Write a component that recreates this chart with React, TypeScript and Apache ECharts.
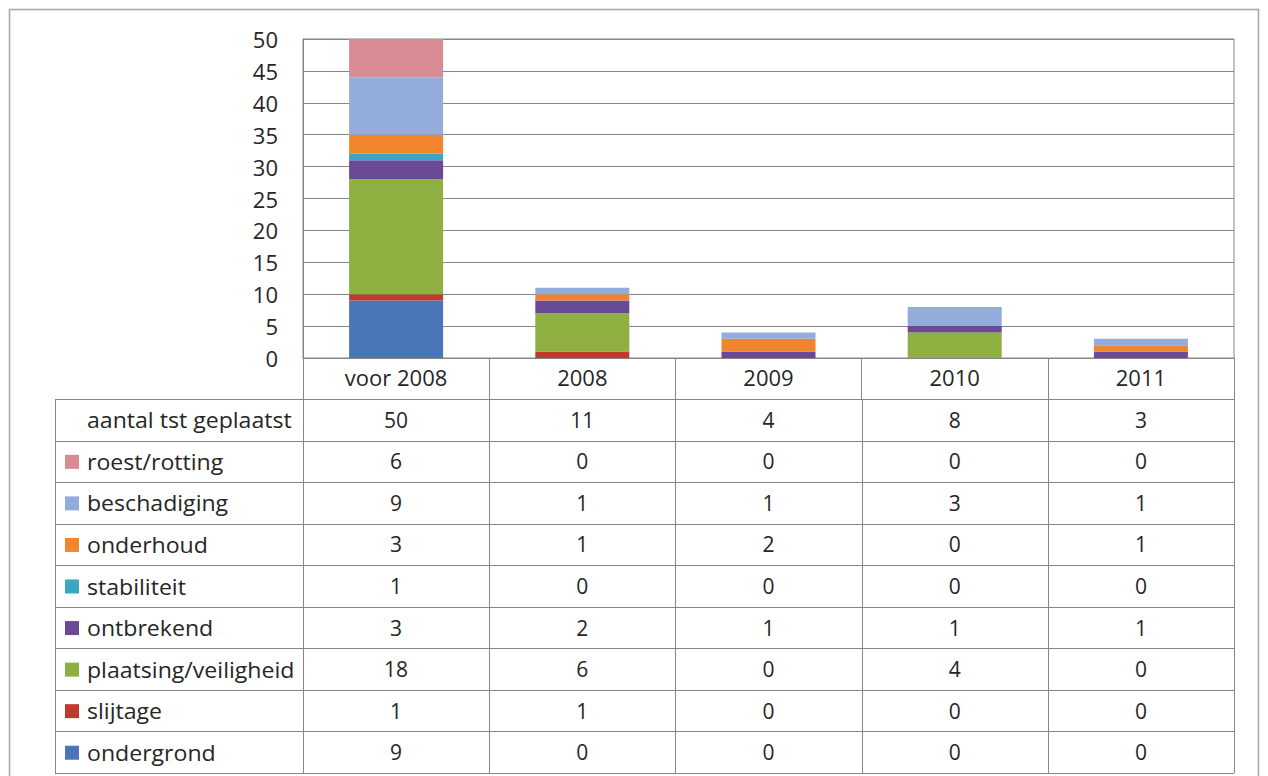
import React, { useEffect, useRef } from "react";
import * as echarts from "echarts";

const categories = ["voor 2008", "2008", "2009", "2010", "2011"];
const totalLabel = "aantal tst geplaatst";
const totals = [50, 11, 4, 8, 3];

// stack order, bottom to top
const seriesNames = [
  "ondergrond",
  "slijtage",
  "plaatsing/veiligheid",
  "ontbrekend",
  "stabiliteit",
  "onderhoud",
  "beschadiging",
  "roest/rotting",
];
const ondergrond = [9, 0, 0, 0, 0];
const slijtage = [1, 1, 0, 0, 0];
const plaatsing = [18, 6, 0, 4, 0];
const ontbrekend = [3, 2, 1, 1, 1];
const stabiliteit = [1, 0, 0, 0, 0];
const onderhoud = [3, 1, 2, 0, 1];
const beschadiging = [9, 1, 1, 3, 1];
const roest = [6, 0, 0, 0, 0];
const seriesValues = [ondergrond, slijtage, plaatsing, ontbrekend, stabiliteit, onderhoud, beschadiging, roest];
const seriesColors = ["#4A76B8", "#C0392F", "#8DB040", "#6A4A94", "#3AA6C2", "#F0852E", "#93ACDC", "#D98B94"];

const yMin = 0;
const yMax = 50;
const yInterval = 5;

const FONT = "'Open Sans', Lato, sans-serif";
const LINE = "#868686";
const TEXT = "#262626";

export default function App() {
  const ref = useRef<HTMLDivElement>(null);

  useEffect(() => {
    if (!ref.current) return;
    const chart = echarts.init(ref.current, undefined, { renderer: "svg" });

    const gridLeft = 303;
    const gridTop = 39;
    const gridRight = 1234;
    const gridBottom = 358;

    chart.setOption({
      animation: false,
      backgroundColor: "#ffffff",
      textStyle: { fontFamily: FONT },
      grid: {
        left: gridLeft,
        top: gridTop,
        right: 1268 - gridRight,
        bottom: 776 - gridBottom,
        show: true,
        borderColor: LINE,
        borderWidth: 1,
      },
      xAxis: {
        type: "category",
        data: categories,
        axisLine: { show: true, lineStyle: { color: LINE, width: 1 } },
        axisTick: { show: true, length: 41, alignWithLabel: false, lineStyle: { color: LINE, width: 1 } },
        axisLabel: { fontSize: 22, color: TEXT, margin: 8, fontFamily: FONT },
        splitLine: { show: false },
      },
      yAxis: {
        type: "value",
        min: yMin,
        max: yMax,
        interval: yInterval,
        axisLine: { show: true, lineStyle: { color: LINE, width: 1 } },
        axisTick: { show: false },
        axisLabel: { fontSize: 22, color: TEXT, margin: 25, fontFamily: FONT },
        splitLine: { show: true, lineStyle: { color: LINE, width: 1 } },
      },
      series: seriesNames.map((name, i) => ({
        name,
        type: "bar",
        stack: "total",
        barWidth: 94,
        data: seriesValues[i],
        itemStyle: { color: seriesColors[i] },
      })),
    });

    // data table below the chart
    const tableLeft = 55;
    const tableTop = 399;
    const tableBottom = 773;
    const rows: { label: string; color: string | null; values: number[] }[] = [
      { label: totalLabel, color: null, values: totals },
    ];
    for (let i = seriesNames.length - 1; i >= 0; i--) {
      rows.push({ label: seriesNames[i], color: seriesColors[i], values: seriesValues[i] });
    }
    const rowH = (tableBottom - tableTop) / rows.length;
    const centers = categories.map((_, i) => chart.convertToPixel({ xAxisIndex: 0 }, i) as number);
    const bounds = [gridLeft];
    const step = (gridRight - gridLeft) / categories.length;
    for (let i = 1; i <= categories.length; i++) bounds.push(gridLeft + step * i);

    const elements: any[] = [];
    // outer chart border
    elements.push({
      type: "rect",
      shape: { x: 9.5, y: 9.5, width: 1249, height: 768 },
      style: { fill: "none", stroke: "#a6a6a6", lineWidth: 1.5 },
    });
    // horizontal lines
    for (let r = 0; r <= rows.length; r++) {
      const y = Math.round(tableTop + r * rowH) + 0.5;
      elements.push({
        type: "line",
        shape: { x1: tableLeft, y1: y, x2: gridRight, y2: y },
        style: { stroke: LINE, lineWidth: 1 },
      });
    }
    // vertical lines
    [tableLeft, ...bounds].forEach((x) => {
      const xx = Math.round(x) + 0.5;
      elements.push({
        type: "line",
        shape: { x1: xx, y1: tableTop, x2: xx, y2: tableBottom },
        style: { stroke: LINE, lineWidth: 1 },
      });
    });
    rows.forEach((row, r) => {
      const cy = tableTop + r * rowH + rowH / 2;
      if (row.color) {
        elements.push({
          type: "rect",
          shape: { x: 65, y: cy - 6.5, width: 14, height: 14 },
          style: { fill: row.color },
        });
      }
      elements.push({
        type: "text",
        x: 87,
        y: cy,
        scaleX: 1.1,
        style: { text: row.label, fontSize: 21, fontFamily: FONT, fill: TEXT, align: "left", verticalAlign: "middle" },
      });
      row.values.forEach((v, c) => {
        elements.push({
          type: "text",
          x: centers[c],
          y: cy,
          style: { text: String(v), fontSize: 21, fontFamily: FONT, fill: TEXT, align: "center", verticalAlign: "middle" },
        });
      });
    });

    chart.setOption({ graphic: { elements } });

    return () => chart.dispose();
  }, []);

  return (
    <div
      ref={ref}
      style={{ position: "fixed", left: 0, top: 0, width: 1268, height: 776 }}
    />
  );
}
